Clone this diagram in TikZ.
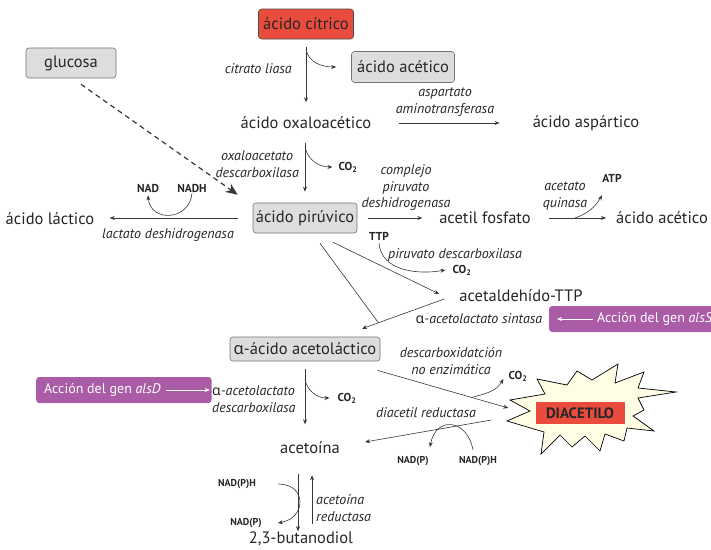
\documentclass[tikz,border=0pt]{standalone}
\usepackage{fontspec}
\setmainfont{PT Sans}
\newfontfamily\grk{Noto Sans}
\usetikzlibrary{arrows.meta,positioning}
\newcommand{\alfa}{{\grk\upshape α}}
\definecolor{gris}{RGB}{221,221,221}
\definecolor{rojo}{RGB}{233,76,61}
\definecolor{morado}{RGB}{170,92,166}
\definecolor{crema}{RGB}{255,253,228}
\definecolor{tinta}{RGB}{55,55,55}
\tikzset{
  mol/.style={font=\fontsize{16.5}{19}\selectfont,inner sep=1pt,text=black!85},
  caja/.style={mol,draw=black!55,fill=gris,rounded corners=3pt,minimum height=30pt,line width=0.6pt},
  enz/.style={font=\fontsize{14}{16.5}\selectfont\itshape,inner sep=1pt,align=center,text=black!85},
  cof/.style={font=\fontsize{11.5}{13}\selectfont\bfseries,inner sep=1pt,text=black!85},
  cofp/.style={cof,font=\fontsize{10}{12}\selectfont\bfseries},
  gen/.style={font=\fontsize{14}{16}\selectfont,text=white,fill=morado,rounded corners=3pt,minimum height=26pt,inner xsep=8pt},
  flecha/.style={draw=tinta,line width=0.6pt,-{Stealth[length=5pt,width=4pt]}},
  flechab/.style={draw=white,line width=0.6pt,-{Stealth[length=5pt,width=4pt]}},
  trazo/.style={draw=tinta,line width=0.6pt},
}
\begin{document}
\begin{tikzpicture}[x=1pt,y=1pt]
\useasboundingbox (0,0) rectangle (711,-549);
\clip (0,0) rectangle (711,-549);
%top part
\node[caja,fill=rojo,draw=black!70,minimum width=95pt] (citrico) at (306,-24) {ácido cítrico};
\node[caja,minimum width=90pt] (glucosa) at (71,-63) {glucosa};
\node[caja,minimum width=103pt,minimum height=31pt] (acetico1) at (403,-67) {ácido acético};
\node[enz,anchor=east] (liasa) at (293,-69) {citrato liasa};
\node[mol] (oxalo) at (306,-123) {ácido oxaloacético};
\node[enz] (aat) at (445,-102) {aspartato\\aminotransferasa};
\node[mol] (aspartico) at (586,-123) {ácido aspártico};
\node[enz,anchor=east] (oaadc) at (300,-164) {oxaloacetato\\descarboxilasa};
\node[cof] (co2a) at (348,-167) {CO\textsubscript{2}};
%pyruvate row
\node[caja,minimum width=104pt] (piruvico) at (305,-218) {ácido pirúvico};
\node[mol] (lactico) at (50,-219) {ácido láctico};
\node[cof] (nad) at (148,-188) {NAD};
\node[cof] (nadh) at (192,-188) {NADH};
\node[enz] (ldh) at (168,-235) {lactato deshidrogenasa};
\node[enz] (pdh) at (406,-188) {complejo\\piruvato\\deshidrogenasa};
\node[mol] (acetil) at (485,-218) {acetil fosfato};
\node[enz] (ak) at (565,-196) {acetato\\quinasa};
\node[cof] (atp) at (612,-178) {ATP};
\node[mol] (acetico2) at (662,-218) {ácido acético};
\node[cof] (ttp) at (379,-236) {TTP};
\node[enz] (pdc) at (455,-255) {piruvato descarboxilasa};
\node[cof] (co2b) at (462,-270) {CO\textsubscript{2}};
\node[mol] (acetal) at (521,-296) {acetaldehído-TTP};
\node[enz] (als) at (479,-319) {\alfa-acetolactato sintasa};
\node[gen,anchor=west] (alsS) at (549,-319) {\hspace*{40pt}Acción del gen \textit{alsS}};
%acetolactate
\node[caja,minimum width=150pt,minimum height=24pt] (acetolac) at (305,-349) {\alfa-ácido acetoláctico};
\node[gen,anchor=west] (alsD) at (36,-390) {Acción del gen \textit{alsD}\hspace*{43pt}};
\node[enz,anchor=west,align=left] (alsdc) at (211,-399) {\alfa-acetolactato\\descarboxilasa};
\node[cof] (co2c) at (347,-398) {CO\textsubscript{2}};
\node[mol] (acetoina) at (310,-448) {acetoína};
\node[enz] (noenz) at (451,-361) {descarboxidatción\\no enzimática};
\node[cof] (co2d) at (518,-376) {CO\textsubscript{2}};
\node[enz] (dar) at (426,-413) {diacetil reductasa};
\node[cofp] (nadp1) at (413,-461) {NAD(P)};
\node[cofp] (nadph1) at (478,-461) {NAD(P)H};
%star
\draw[fill=crema,line width=0.7pt] (510,-400) -- (545,-394) -- (537,-379) -- (567,-385) -- (577,-371) -- (592,-380) -- (618,-364) -- (615,-383) -- (644,-372) -- (638,-388) -- (676,-392) -- (638,-398) -- (644,-410) -- (633,-416) -- (654,-431) -- (627,-428) -- (624,-441) -- (605,-434) -- (600,-451) -- (585,-436) -- (572,-447) -- (560,-435) -- (541,-454) -- (544,-432) -- (507,-421) -- (530,-411) -- cycle;
\node[fill=rojo,font=\fontsize{15}{17}\selectfont\bfseries,text=black!85,minimum width=89pt,minimum height=22pt,inner sep=1pt] (diacetilo) at (580,-413) {DIACETILO};
%bottom
\node[cofp] (nadph2) at (237,-484) {NAD(P)H};
\node[cofp] (nadp2) at (246,-523) {NAD(P)};
\node[enz,anchor=west,align=left] (acr) at (315,-508) {acetoína\\reductasa};
\node[mol] (butano) at (301,-539) {2,3-butanodiol};

%connectors
\draw[flecha] (citrico.south) ++(0,-8) -- ++(0,-55);
\draw[flecha] (citrico.south) ++(0,-10) to[out=-80,in=180] ([xshift=-15pt]acetico1.west);
\draw[flecha] (aspartico.west) ++(-133,0) -- ++(101,0);
\draw[flecha] (piruvico.north) ++(0,60) -- ++(0,-49);
\draw[flecha] (piruvico.north) ++(0,56) to[out=-80,in=180] ([xshift=-5pt]co2a.west);
\draw[dashed,dash pattern=on 5pt off 4pt,line width=1.2pt,tinta,-{Stealth[length=12pt,width=10pt]}] ([xshift=10pt,yshift=-6pt]glucosa.south) -- ([xshift=-15pt,yshift=8pt]piruvico.north west);
\draw[flecha] (piruvico.west) ++(-15,0) -- ++(-128,0);
\draw[flecha] (nadh.south) to[out=-95,in=-85,looseness=1.6] ([yshift=-2pt]nad.south);
\draw[flecha] (piruvico.east) ++(11,0) -- ++(54,0);
\draw[flecha] (acetico2.west) ++(-66,0) -- ++(57,0);
\draw[flecha] (acetico2.west) ++(-40,0) to[out=20,in=-120] ([xshift=-10pt,yshift=-12pt]atp.south);
\draw[flecha] (ttp.south) ++(0,-2) to[out=-85,in=190] ([xshift=-6pt]co2b.west);
\draw[flecha] ([xshift=28pt,yshift=-9pt]piruvico.south) -- ([xshift=-19pt,yshift=2pt]acetal.west);
\draw[flecha] ([xshift=-14pt,yshift=-3pt]acetal.west) -- coordinate[pos=0.8] (union) ([xshift=57pt,yshift=8pt]acetolac.north);
\draw[trazo] ([xshift=15pt,yshift=-10pt]piruvico.south) -- (union);
\draw[flechab] ([xshift=44pt]alsS.west) -- ([xshift=8pt]alsS.west);
\draw[flechab] ([xshift=-46pt]alsD.east) -- ([xshift=-2pt]alsD.east);
\draw[flecha] (acetolac.south) ++(0,-8) -- ++(0,-55);
\draw[flecha] (acetolac.south) ++(0,-18) to[out=-80,in=180] ([xshift=-7pt]co2c.west);
\draw[flecha] ([xshift=-3pt,yshift=-9pt]acetolac.south east) -- coordinate[pos=0.72] (ramaco2) ([xshift=-27pt,yshift=5pt]diacetilo.west);
\draw[flecha] (ramaco2) to[out=15,in=-120] ([xshift=-4pt,yshift=-3pt]co2d.west);
\draw[flecha] ([xshift=-44pt,yshift=-7pt]diacetilo.west) -- ([xshift=24pt,yshift=6pt]acetoina.east);
\draw[flecha] ([xshift=-5pt,yshift=5pt]nadph1.north) to[out=100,in=80,looseness=1.9] ([xshift=17pt,yshift=8pt]nadp1.north);
\draw[flecha] ([xshift=-12pt,yshift=-19pt]acetoina.south) -- ++(0,-57);
\draw[flecha] ([xshift=2pt,yshift=-69pt]acetoina.south) -- ++(0,49);
\draw[flecha] ([xshift=21pt,yshift=0pt]nadph2.east) to[out=0,in=10,looseness=1.9] ([xshift=15pt]nadp2.east);
\end{tikzpicture}
\end{document}
